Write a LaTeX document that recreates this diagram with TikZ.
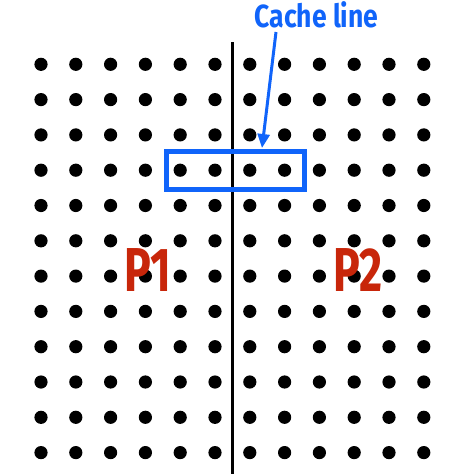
\documentclass[tikz,border=0pt]{standalone}
\usepackage{fontspec}
\newfontfamily\condfont[FakeStretch=0.72]{Fira Sans}
\newfontfamily\labelfont[FakeStretch=0.83]{Fira Sans}
\usetikzlibrary{arrows.meta}
\definecolor{cacheblue}{RGB}{16,100,250}
\definecolor{pred}{RGB}{200,38,10}
\tikzset{
  dot/.style={fill=black},
  plabel/.style={inner sep=0pt, anchor=base, text=pred, font=\condfont\bfseries\fontsize{62}{62}\selectfont},
  cachebox/.style={draw=cacheblue, line width=5pt, minimum width=138pt, minimum height=38pt, inner sep=0pt},
  cachetext/.style={inner sep=0pt, anchor=base, text=cacheblue, font=\labelfont\bfseries\fontsize{32}{32}\selectfont},
  pointer/.style={draw=cacheblue, line width=3pt, -{Triangle[length=14pt,width=12pt]}}
}
\begin{document}
\begin{tikzpicture}[x=1pt,y=-1pt]
\useasboundingbox (0,0) rectangle (455,474);
\foreach \i in {0,...,11}{
  \foreach \j in {0,...,11}{
    \fill[dot] ({41+34.8*\i},{64.3+35.3*\j}) circle (6.6pt);
  }
}
\draw[line width=2.5pt] (232.5,42) -- (232.5,474);
\node[cachebox] (line) at (235,170) {};
\node[cachetext] (cl) at (316.5,27) {Cache line};
\coordinate (from) at (276,32);
\coordinate (tip) at (262,148);
\draw[pointer] (from) -- (tip);
\node[plabel] (p1) at (148,291.5) {P1};
\node[plabel] (p2) at (358,291.5) {P2};
\end{tikzpicture}
\end{document}
